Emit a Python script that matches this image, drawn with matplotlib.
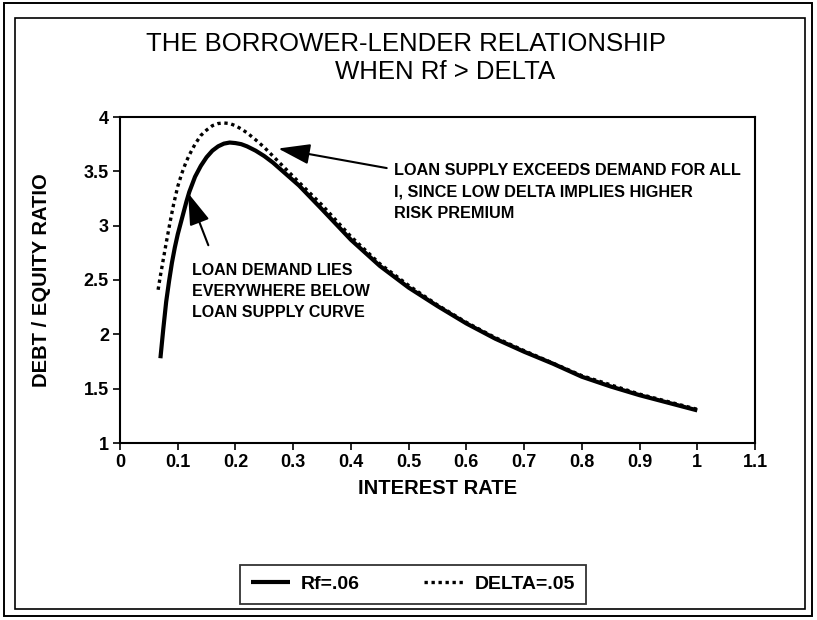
import matplotlib
matplotlib.use("Agg")
import matplotlib.pyplot as plt
from matplotlib.patches import Rectangle

# curve data
rf_x = [0.07, 0.075, 0.08, 0.085, 0.09, 0.095, 0.10, 0.105, 0.11, 0.115, 0.12,
        0.13, 0.14, 0.15, 0.16, 0.17, 0.18, 0.19, 0.20, 0.21, 0.22, 0.235, 0.25,
        0.265, 0.28, 0.295, 0.31, 0.35, 0.40, 0.45, 0.50, 0.55, 0.60, 0.65,
        0.70, 0.75, 0.80, 0.85, 0.90, 0.95, 1.00]
rf_y = [1.78, 2.05, 2.30, 2.49, 2.66, 2.80, 2.92, 3.02, 3.12, 3.22, 3.31,
        3.45, 3.55, 3.63, 3.69, 3.73, 3.755, 3.765, 3.76, 3.75, 3.73, 3.69, 3.64,
        3.58, 3.51, 3.44, 3.37, 3.15, 2.87, 2.63, 2.43, 2.26, 2.10, 1.96,
        1.84, 1.73, 1.61, 1.52, 1.44, 1.37, 1.30]

delta_x = [0.066, 0.07, 0.075, 0.08, 0.087, 0.093, 0.10, 0.107, 0.114, 0.12,
           0.13, 0.14, 0.15, 0.16, 0.17, 0.18, 0.19, 0.20, 0.21, 0.22, 0.235,
           0.25, 0.265, 0.28, 0.31, 0.35, 0.40, 0.45, 0.50, 0.55, 0.60, 0.65,
           0.70, 0.80, 0.90, 1.00]
delta_y = [2.41, 2.54, 2.69, 2.84, 3.04, 3.20, 3.36, 3.48, 3.58, 3.65,
           3.75, 3.83, 3.88, 3.92, 3.94, 3.945, 3.94, 3.92, 3.89, 3.855, 3.79,
           3.72, 3.64, 3.56, 3.40, 3.19, 2.90, 2.65, 2.45, 2.27, 2.11, 1.97,
           1.85, 1.62, 1.45, 1.31]

x_ticks = [0, 0.1, 0.2, 0.3, 0.4, 0.5, 0.6, 0.7, 0.8, 0.9, 1, 1.1]
x_tick_labels = ["0", "0.1", "0.2", "0.3", "0.4", "0.5", "0.6", "0.7", "0.8", "0.9", "1", "1.1"]
y_ticks = [1, 1.5, 2, 2.5, 3, 3.5, 4]
y_tick_labels = ["1", "1.5", "2", "2.5", "3", "3.5", "4"]

supply_note = ["LOAN SUPPLY EXCEEDS DEMAND FOR ALL",
               "I, SINCE LOW DELTA IMPLIES HIGHER",
               "RISK PREMIUM"]
demand_note = ["LOAN DEMAND LIES",
               "EVERYWHERE BELOW",
               "LOAN SUPPLY CURVE"]

plt.rcParams['font.family'] = ['Liberation Sans', 'DejaVu Sans']

W, H = 817, 620
fig = plt.figure(figsize=(W / 100, H / 100), dpi=100)

# double frame round the whole page
fig.add_artist(Rectangle((4 / W, 1 - 616 / H), 808 / W, 613 / H, transform=fig.transFigure,
                         fill=False, lw=1.4, color='black'))
fig.add_artist(Rectangle((15 / W, 1 - 609 / H), 790 / W, 591 / H, transform=fig.transFigure,
                         fill=False, lw=1.2, color='black'))

ax = fig.add_axes([120 / W, 1 - 443 / H, 635 / W, 326 / H])

ax.plot(rf_x, rf_y, color='black', lw=3.0, solid_capstyle='butt', label='Rf=.06')
ax.plot(delta_x, delta_y, color='black', lw=2.4, linestyle=(0, (1, 1.1)), label='DELTA=.05')

ax.set_xlim(0, 1.1)
ax.set_ylim(1, 4)
ax.set_xticks(x_ticks)
ax.set_xticklabels(x_tick_labels)
ax.set_yticks(y_ticks)
ax.set_yticklabels(y_tick_labels)
ax.tick_params(direction='out', length=5, width=1.2, labelsize=13, pad=3)
for lab in ax.get_xticklabels() + ax.get_yticklabels():
    lab.set_fontweight('bold')
for sp in ax.spines.values():
    sp.set_linewidth(1.5)

ax.set_xlabel('INTEREST RATE', fontsize=14.5, fontweight='bold', labelpad=6)
ax.set_ylabel('DEBT / EQUITY RATIO', fontsize=14.5, fontweight='bold')
ax.yaxis.set_label_coords(-0.108, 0.5)

# annotations
for i, line in enumerate(supply_note):
    ax.text(0.474, 3.51 - i * 0.2, line, fontsize=11.7, fontweight='bold', va='center', ha='left')
for i, line in enumerate(demand_note):
    ax.text(0.125, 2.59 - i * 0.195, line, fontsize=11.5, fontweight='bold', va='center', ha='left')

arrow = dict(arrowstyle='-|>,head_length=1.4,head_width=0.45', mutation_scale=14,
             lw=1.5, color='black', shrinkA=0, shrinkB=0)
ax.annotate('', xy=(0.274, 3.71), xytext=(0.462, 3.53), arrowprops=arrow)
ax.annotate('', xy=(0.118, 3.30), xytext=(0.153, 2.82), arrowprops=arrow)

# title, two lines
fig.text(406 / W, 1 - 44 / H, 'THE BORROWER-LENDER RELATIONSHIP', ha='center', va='center', fontsize=18.5)
fig.text(445 / W, 1 - 72 / H, 'WHEN Rf > DELTA', ha='center', va='center', fontsize=18.5)

leg = fig.legend(loc='center', bbox_to_anchor=(413 / W, 1 - 584 / H), ncol=2, frameon=True,
                 fancybox=False, edgecolor='black', handlelength=2.0, handletextpad=0.6,
                 columnspacing=3.3, prop={'weight': 'bold', 'size': 14}, borderpad=0.55)
leg.get_frame().set_linewidth(1.3)

fig.savefig('out.png', dpi=100)
